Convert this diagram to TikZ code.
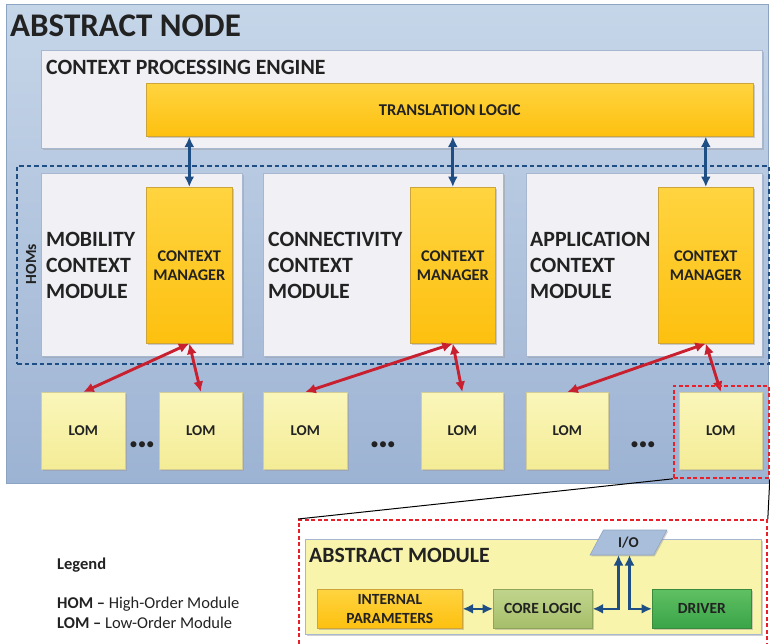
\documentclass[tikz,border=0pt]{standalone}
\usepackage{fontspec}
\setmainfont{Carlito}
\usepackage{tikz}
\usetikzlibrary{shapes.geometric,arrows.meta,positioning,calc,shadows}

\definecolor{inktext}{HTML}{222222}
\definecolor{nodetop}{HTML}{C6D6E9}
\definecolor{nodebot}{HTML}{9DB3D3}
\definecolor{nodeline}{HTML}{8CA3C2}
\definecolor{panelfill}{HTML}{F1F0F5}
\definecolor{panelline}{HTML}{A7B7CF}
\definecolor{goldtop}{HTML}{FFD440}
\definecolor{goldbot}{HTML}{FDC00F}
\definecolor{goldline}{HTML}{CDA43A}
\definecolor{lomtop}{HTML}{FAF6BA}
\definecolor{lombot}{HTML}{F4EC96}
\definecolor{lomline}{HTML}{D3CE98}
\definecolor{linkblue}{HTML}{1F4E85}
\definecolor{linkred}{HTML}{C8202E}
\definecolor{markred}{HTML}{E8202A}
\definecolor{modfill}{HTML}{F8F4AC}
\definecolor{coretop}{HTML}{C0D58C}
\definecolor{corebot}{HTML}{A6BE6A}
\definecolor{coreline}{HTML}{8FA65A}
\definecolor{drvtop}{HTML}{5FC062}
\definecolor{drvbot}{HTML}{3AA448}
\definecolor{drvline}{HTML}{3A8A3C}
\definecolor{iofill}{HTML}{A9BEDA}
\definecolor{ioline}{HTML}{8EA4C2}

\tikzset{
  boxshade/.style={drop shadow={shadow xshift=1.3pt,shadow yshift=-1.3pt,fill=black!40,opacity=0.45}},
  outerbox/.style={draw=nodeline, line width=0.8pt, top color=nodetop, bottom color=nodebot, anchor=north west, inner sep=0pt},
  panel/.style={draw=panelline, line width=0.6pt, fill=panelfill, anchor=north west, inner sep=0pt, boxshade},
  goldbox/.style={draw=goldline, line width=0.6pt, top color=goldtop, bottom color=goldbot, anchor=north west, inner sep=0pt, boxshade, text=inktext, align=center},
  lombox/.style={draw=lomline, line width=0.6pt, top color=lomtop, bottom color=lombot, anchor=north west, inner sep=0pt, boxshade,
    minimum width=84pt, minimum height=77pt, text=inktext, font=\fontsize{15}{15}\selectfont\bfseries},
  headline/.style={anchor=base west, inner sep=0pt, text=inktext, font=\fontsize{#1}{#1}\selectfont\bfseries},
  modlabel/.style={anchor=west, inner sep=0pt, text=inktext, align=left, font=\fontsize{21.8}{26}\selectfont\bfseries},
  cmlabel/.style={font=\fontsize{16.3}{19}\selectfont\bfseries},
  dots/.style={inner sep=0pt, text=inktext, font=\fontsize{17}{17}\selectfont},
  homframe/.style={draw=linkblue, line width=2pt, dash pattern=on 4.5pt off 3pt, anchor=north west, inner sep=0pt},
  bluelink/.style={draw=linkblue, line width=2.9pt, {Latex[length=10.5pt,width=10pt]}-{Latex[length=10.5pt,width=10pt]}},
  redlink/.style={draw=linkred, line width=2.9pt, {Latex[length=10.5pt,width=10pt]}-{Latex[length=10.5pt,width=10pt]}},
  redmark/.style={draw=markred, line width=1.8pt, dash pattern=on 4pt off 2.5pt, anchor=north west, inner sep=0pt},
  smallbox/.style={anchor=north west, inner sep=0pt, line width=0.6pt, boxshade, minimum height=39pt, text=inktext,
    align=center, font=\fontsize{15.5}{19}\selectfont\bfseries},
  legendtext/.style={anchor=base west, inner sep=0pt, text=inktext, font=\fontsize{16.5}{16.5}\selectfont}
}

\begin{document}
\begin{tikzpicture}[x=1pt,y=-1pt]
\useasboundingbox (0,0) rectangle (770,643);
\clip (0,0) rectangle (770,643);

% abstract node
\node[outerbox, minimum width=762pt, minimum height=479pt] (absnode) at (6,4) {};
\node[headline=33] (absnodetitle) at (10,36) {ABSTRACT NODE};

% context processing engine
\node[panel, minimum width=721pt, minimum height=98pt] (engine) at (41,50) {};
\node[headline=21.8] (enginetitle) at (46,74) {CONTEXT PROCESSING ENGINE};
\node[goldbox, minimum width=607pt, minimum height=53pt, font=\fontsize{16.5}{16.5}\selectfont\bfseries] (translation) at (146,83) {TRANSLATION LOGIC};

% high-order modules
\node[homframe, minimum width=752pt, minimum height=198pt] (homs) at (16,165) {};
\node[rotate=90, inner sep=0pt, text=inktext, font=\fontsize{15.5}{15.5}\selectfont\bfseries] (homslabel) at (31,264) {HOMs};

\node[panel, minimum width=201pt, minimum height=183pt] (mobility) at (41,173) {};
\node[panel, minimum width=240pt, minimum height=183pt] (connectivity) at (263,173) {};
\node[panel, minimum width=236pt, minimum height=183pt] (application) at (526,173) {};

\node[modlabel] (mobilitytext) at (46,265) {MOBILITY\\CONTEXT\\MODULE};
\node[modlabel] (connectivitytext) at (268,265) {CONNECTIVITY\\CONTEXT\\MODULE};
\node[modlabel] (applicationtext) at (530,265) {APPLICATION\\CONTEXT\\MODULE};

\node[goldbox, cmlabel, minimum width=86pt, minimum height=156pt] (cmmobility) at (146,187) {CONTEXT\\MANAGER};
\node[goldbox, cmlabel, minimum width=85pt, minimum height=156pt] (cmconnect) at (410,187) {CONTEXT\\MANAGER};
\node[goldbox, cmlabel, minimum width=95pt, minimum height=156pt] (cmapp) at (658,187) {CONTEXT\\MANAGER};

% low-order modules
\node[lombox] (lomA) at (41,392) {LOM};
\node[lombox, minimum width=83pt] (lomB) at (159,392) {LOM};
\node[lombox] (lomC) at (263,392) {LOM};
\node[lombox, minimum width=82pt] (lomD) at (421,392) {LOM};
\node[lombox, minimum width=82pt] (lomE) at (526,392) {LOM};
\node[lombox, minimum width=83pt] (lomF) at (679,392) {LOM};

\node[dots] (dotsA) at (142,446) {\textbullet\textbullet\textbullet};
\node[dots] (dotsB) at (383,446) {\textbullet\textbullet\textbullet};
\node[dots] (dotsC) at (643,446) {\textbullet\textbullet\textbullet};

% links
\draw[bluelink] (translation.south -| cmmobility.north) -- (cmmobility.north);
\draw[bluelink] (translation.south -| cmconnect.north) -- (cmconnect.north);
\draw[bluelink] (translation.south -| cmapp.north) -- (cmapp.north);

\draw[redlink] (cmmobility.south) -- (lomA.north);
\draw[redlink] (cmmobility.south) -- (lomB.north);
\draw[redlink] (cmconnect.south) -- (lomC.north);
\draw[redlink] (cmconnect.south) -- (lomD.north);
\draw[redlink] (cmapp.south) -- (lomE.north);
\draw[redlink] (cmapp.south) -- (lomF.north);

% zoom on one LOM
\node[redmark, minimum width=95pt, minimum height=92pt] (lomzoom) at (673,385) {};
\node[redmark, minimum width=468pt, minimum height=140pt] (detail) at (298,519) {};
\draw[black, line width=1pt] (lomzoom.south west) -- (detail.north west);
\draw[black, line width=1pt] (lomzoom.south east) -- (detail.north east);

% abstract module
\node[panel, fill=modfill, minimum width=456pt, minimum height=95pt] (absmodule) at (305,539) {};
\node[headline=21.8] (absmoduletitle) at (309,562) {ABSTRACT MODULE};

\node[smallbox, draw=goldline, top color=goldtop, bottom color=goldbot, minimum width=145pt] (params) at (317,589) {INTERNAL\\PARAMETERS};
\node[smallbox, draw=coreline, top color=coretop, bottom color=corebot, minimum width=99pt] (core) at (493,589) {CORE LOGIC};
\node[smallbox, draw=drvline, top color=drvtop, bottom color=drvbot, minimum width=99pt] (driver) at (652,589) {DRIVER};
\node[trapezium, trapezium left angle=64, trapezium right angle=116, trapezium stretches=true,
  draw=ioline, fill=iofill, line width=0.6pt, boxshade, minimum width=77pt, minimum height=25pt, inner sep=0pt,
  text=inktext, font=\fontsize{15}{15}\selectfont\bfseries] (io) at (628.5,542.5) {I/O};

\draw[bluelink, line width=2.5pt] (params.east) -- (core.west);
\draw[bluelink, line width=2.5pt] (core.east) -| ($(core.east -| io.center)+(-10,0)$) -- ($(io.center)+(-10,12.5)$);
\draw[bluelink, line width=2.5pt] ($(io.center)+(1,12.5)$) -- ($(driver.west -| io.center)+(1,0)$) -- (driver.west);

% legend
\node[legendtext, font=\fontsize{16.5}{16.5}\selectfont\bfseries] (legendtitle) at (57,569) {Legend};
\node[legendtext] (legendhom) at (57,608) {\textbf{HOM –} High-Order Module};
\node[legendtext] (legendlom) at (57,628) {\textbf{LOM –} Low-Order Module};
\end{tikzpicture}
\end{document}
